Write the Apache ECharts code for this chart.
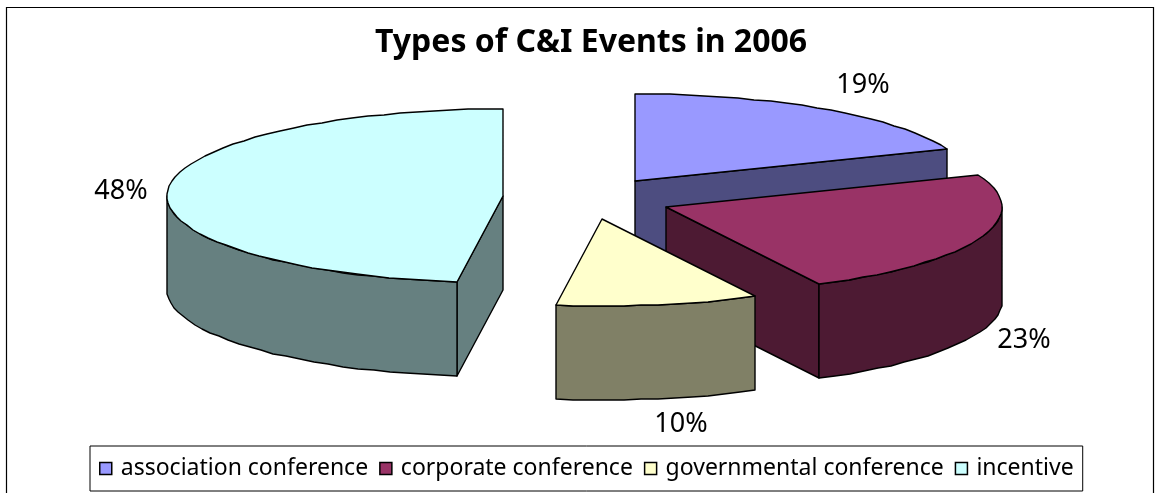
<!DOCTYPE html>
<html><head><meta charset="utf-8">
<style>html,body{margin:0;padding:0;background:#fff}#c{width:1160px;height:493px}</style>
<script src="https://cdn.jsdelivr.net/npm/echarts@6/dist/echarts.min.js"></script>
</head><body><div id="c"></div>
<script>
const categories = ['association conference','corporate conference','governmental conference','incentive'];
const shares = [19.0, 23.45, 9.75, 47.8];
const topColors = ['#9999ff','#993366','#ffffcc','#ccffff'];
const sideColors = ['#4d4d80','#4d1a33','#808066','#668080'];
// layout of the exploded tilted pie
const RX = 336, RY = 87, DEPTH = 94, STEP = 3;
const apexes = [[635,181],[666,207],[602,219],[503,196]];
const labelAt = [[863,85],[1024,340],[681,424],[121,191]];
const FONT = '"Noto Sans", sans-serif';

const total = shares.reduce((a,b)=>a+b,0);
const startOf = i => shares.slice(0,i).reduce((a,b)=>a+b,0)/total*360;
function pt(apex, deg, dy){
  const r = deg*Math.PI/180;
  return [Math.round(apex[0]+RX*Math.sin(r)), Math.round(apex[1]-RY*Math.cos(r)+(dy||0))];
}
function arc(apex,a,b,dy){
  const out=[]; const n=Math.max(1,Math.ceil((b-a)/STEP));
  for(let k=0;k<=n;k++) out.push(pt(apex,a+(b-a)*k/n,dy));
  return out;
}
function renderSlice(i){
  return function(params, api){
    const val = api.value(0);
    const a = startOf(i), b = a + val/total*360;
    const apex = apexes[i];
    const stroke = {stroke:'#000', lineWidth:1.4, lineJoin:'round'};
    const kids = [];
    const poly = (points, fill) => kids.push({type:'polygon', shape:{points}, style:Object.assign({fill},stroke)});
    const low = [apex[0],apex[1]+DEPTH];
    if (b<=180 && b>90) {
      poly([apex,pt(apex,b),pt(apex,b,DEPTH),low], sideColors[i]);
    } else if (a===0) {
      poly([apex,pt(apex,b),pt(apex,b,DEPTH),low], sideColors[i]);
    } else if (b>=359.9) {
      poly([apex,pt(apex,a),pt(apex,a,DEPTH),low], sideColors[i]);
    }
    const ra = Math.max(a,90), rb = Math.min(b,270);
    if (rb>ra){
      poly(arc(apex,ra,rb,0).concat(arc(apex,ra,rb,DEPTH).reverse()), sideColors[i]);
    }
    poly([apex].concat(arc(apex,a,b,0)), topColors[i]);
    kids.push({type:'text', style:{text:Math.round(val)+'%', x:labelAt[i][0], y:labelAt[i][1], align:'center', verticalAlign:'middle', fill:'#000', fontSize:27, fontFamily:FONT}});
    return {type:'group', children:kids};
  };
}
const chart = echarts.init(document.getElementById('c'), null, {renderer:'canvas'});
chart.setOption({
  animation:false,
  backgroundColor:'#fff',
  title:{text:'Types of C&I Events in 2006', left:586, top:22, textAlign:'center',
    textStyle:{fontSize:32, fontWeight:'bold', color:'#000', fontFamily:FONT}},
  legend:{data:categories, left:90, top:446, orient:'horizontal', padding:[11,9,11,9],
    width:1060, backgroundColor:'#fff', borderColor:'#000', borderWidth:1,
    icon:'rect', itemWidth:12, itemHeight:12, itemGap:11, selectedMode:false,
    itemStyle:{borderColor:'#000', borderWidth:1.5},
    textStyle:{fontSize:23, color:'#000', fontFamily:FONT, padding:[0,0,0,4]}},
  graphic:[{type:'rect', z:-10, shape:{x:6.5,y:7.5,width:1147,height:520}, style:{fill:'#fff',stroke:'#000',lineWidth:1.2}}],
  series:categories.map((name,i)=>({
    name, type:'custom', coordinateSystem:'none', z:2+i,
    itemStyle:{color:topColors[i]},
    renderItem:renderSlice(i),
    data:[[shares[i]]]
  }))
});
</script></body></html>
